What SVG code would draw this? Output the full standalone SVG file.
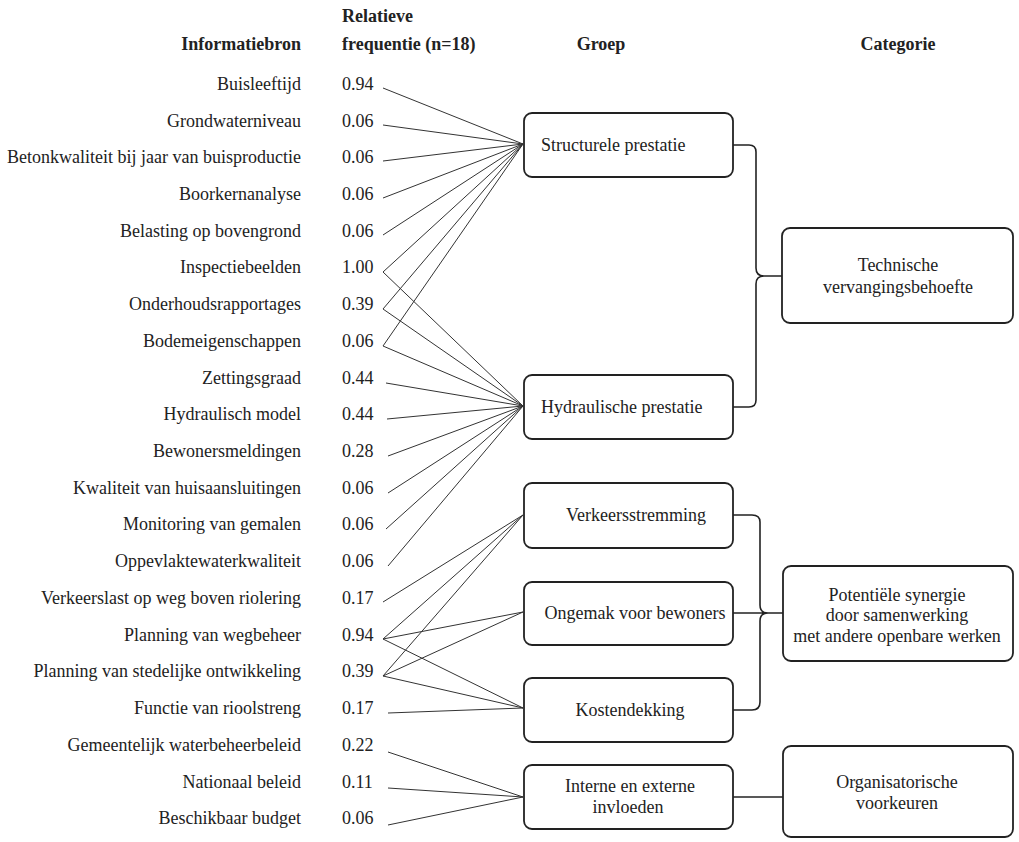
<svg xmlns="http://www.w3.org/2000/svg" width="1019" height="842" viewBox="0 0 1019 842">
<style>
text{font-family:"Liberation Serif","Times New Roman",serif;font-size:18px;fill:#222}
.h{font-weight:bold}
.l{text-anchor:end}
.m{text-anchor:middle}
.box{fill:#fff;stroke:#222;stroke-width:1.8}
.c line{stroke:#333;stroke-width:1}
.b{fill:none;stroke:#222;stroke-width:1.6}
</style>
<rect width="1019" height="842" fill="#fff"/>
<g id="headers">
<text class="h l" x="301" y="50">Informatiebron</text>
<text class="h" x="342" y="22">Relatieve</text>
<text class="h" x="342" y="50">frequentie (n=18)</text>
<text class="h m" x="601" y="50">Groep</text>
<text class="h m" x="898" y="50">Categorie</text>
</g>
<g id="sources">
<text class="l" x="301" y="90">Buisleeftijd</text><text x="342" y="90">0.94</text>
<text class="l" x="301" y="127">Grondwaterniveau</text><text x="342" y="127">0.06</text>
<text class="l" x="301" y="163">Betonkwaliteit bij jaar van buisproductie</text><text x="342" y="163">0.06</text>
<text class="l" x="301" y="200">Boorkernanalyse</text><text x="342" y="200">0.06</text>
<text class="l" x="301" y="237">Belasting op bovengrond</text><text x="342" y="237">0.06</text>
<text class="l" x="301" y="273">Inspectiebeelden</text><text x="342" y="273">1.00</text>
<text class="l" x="301" y="310">Onderhoudsrapportages</text><text x="342" y="310">0.39</text>
<text class="l" x="301" y="347">Bodemeigenschappen</text><text x="342" y="347">0.06</text>
<text class="l" x="301" y="384">Zettingsgraad</text><text x="342" y="384">0.44</text>
<text class="l" x="301" y="420">Hydraulisch model</text><text x="342" y="420">0.44</text>
<text class="l" x="301" y="457">Bewonersmeldingen</text><text x="342" y="457">0.28</text>
<text class="l" x="301" y="494">Kwaliteit van huisaansluitingen</text><text x="342" y="494">0.06</text>
<text class="l" x="301" y="530">Monitoring van gemalen</text><text x="342" y="530">0.06</text>
<text class="l" x="301" y="567">Oppevlaktewaterkwaliteit</text><text x="342" y="567">0.06</text>
<text class="l" x="301" y="604">Verkeerslast op weg boven riolering</text><text x="342" y="604">0.17</text>
<text class="l" x="301" y="641">Planning van wegbeheer</text><text x="342" y="641">0.94</text>
<text class="l" x="301" y="677">Planning van stedelijke ontwikkeling</text><text x="342" y="677">0.39</text>
<text class="l" x="301" y="714">Functie van rioolstreng</text><text x="342" y="714">0.17</text>
<text class="l" x="301" y="751">Gemeentelijk waterbeheerbeleid</text><text x="342" y="751">0.22</text>
<text class="l" x="301" y="788">Nationaal beleid</text><text x="342" y="788">0.11</text>
<text class="l" x="301" y="824">Beschikbaar budget</text><text x="342" y="824">0.06</text>
</g>
<g id="connectors" class="c">
<line x1="383" y1="88" x2="523" y2="144"/>
<line x1="383" y1="125" x2="523" y2="144"/>
<line x1="383" y1="161" x2="523" y2="144"/>
<line x1="383" y1="198" x2="523" y2="144"/>
<line x1="383" y1="235" x2="523" y2="144"/>
<line x1="383" y1="272" x2="523" y2="144"/>
<line x1="383" y1="309" x2="523" y2="144"/>
<line x1="383" y1="346" x2="523" y2="144"/>
<line x1="383" y1="272" x2="523" y2="406"/>
<line x1="383" y1="309" x2="523" y2="406"/>
<line x1="383" y1="346" x2="523" y2="406"/>
<line x1="386" y1="383" x2="523" y2="406"/>
<line x1="387" y1="419" x2="523" y2="406"/>
<line x1="388" y1="456" x2="523" y2="406"/>
<line x1="388" y1="493" x2="523" y2="406"/>
<line x1="386" y1="529" x2="523" y2="406"/>
<line x1="388" y1="566" x2="523" y2="406"/>
<line x1="383" y1="602" x2="523" y2="515"/>
<line x1="383" y1="639" x2="523" y2="515"/>
<line x1="383" y1="639" x2="523" y2="612"/>
<line x1="383" y1="639" x2="523" y2="708"/>
<line x1="383" y1="676" x2="523" y2="515"/>
<line x1="383" y1="676" x2="523" y2="612"/>
<line x1="383" y1="676" x2="523" y2="708"/>
<line x1="388" y1="713" x2="523" y2="708"/>
<line x1="388" y1="752" x2="523" y2="797"/>
<line x1="388" y1="788" x2="523" y2="797"/>
<line x1="388" y1="825" x2="523" y2="797"/>
<path class="b" d="M733 145 H749 Q756 145 756 152 V268 Q756 276 764 276 H782 M764 276 Q756 276 756 284 V400 Q756 407 749 407 H733"/>
<path class="b" d="M733 515 H752 Q760 515 760 522 V605 Q760 613 768 613 H783 M733 613 H783 M768 613 Q760 613 760 621 V702 Q760 710 752 710 H733"/>
<path class="b" d="M733 797 H783"/>
</g>
<g id="n-structurele"><rect class="box" x="524" y="113" width="209" height="64" rx="8"/><text x="541" y="151">Structurele prestatie</text></g>
<g id="n-hydraulische"><rect class="box" x="524" y="375" width="209" height="64" rx="8"/><text x="541" y="413">Hydraulische prestatie</text></g>
<g id="n-verkeer"><rect class="box" x="524" y="483" width="209" height="65" rx="8"/><text class="m" x="636" y="521">Verkeersstremming</text></g>
<g id="n-ongemak"><rect class="box" x="524" y="582" width="209" height="63" rx="8"/><text class="m" x="635" y="619">Ongemak voor bewoners</text></g>
<g id="n-kosten"><rect class="box" x="524" y="678" width="209" height="64" rx="8"/><text class="m" x="630" y="716">Kostendekking</text></g>
<g id="n-interne"><rect class="box" x="524" y="765" width="209" height="64" rx="8"/><text class="m" x="630" y="792">Interne en externe</text><text class="m" x="628" y="813">invloeden</text></g>
<g id="n-technische"><rect class="box" x="782" y="228" width="231" height="95" rx="8"/><text class="m" x="898" y="271">Technische</text><text class="m" x="898" y="293">vervangingsbehoefte</text></g>
<g id="n-synergie"><rect class="box" x="783" y="566" width="230" height="95" rx="8"/><text class="m" x="897" y="601">Potentiële synergie</text><text class="m" x="897" y="621">door samenwerking</text><text class="m" x="897" y="642">met andere openbare werken</text></g>
<g id="n-organisatie"><rect class="box" x="783" y="746" width="230" height="91" rx="8"/><text class="m" x="897" y="788">Organisatorische</text><text class="m" x="897" y="809">voorkeuren</text></g>
</svg>
